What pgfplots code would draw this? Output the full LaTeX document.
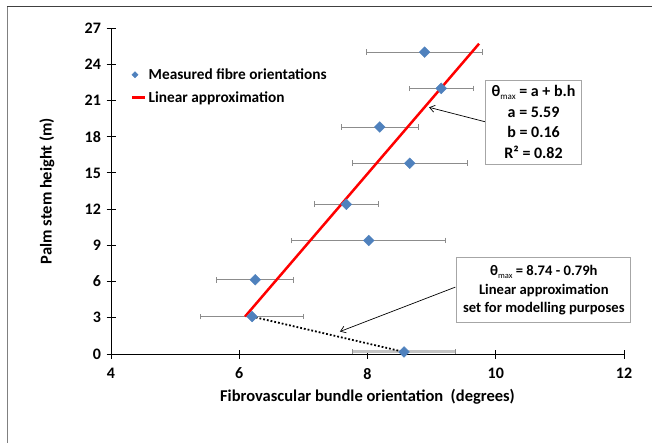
\documentclass[border=0pt]{standalone}
\usepackage{fontspec}
\setmainfont{Carlito}
\usepackage{pgfplots}
\pgfplotsset{compat=1.18}
\usetikzlibrary{arrows.meta}
\definecolor{xlblue}{HTML}{4F81BD}
\definecolor{errgray}{HTML}{8C8C8C}
\definecolor{bandgray}{HTML}{C4C4C4}
\definecolor{boxgray}{HTML}{A6A6A6}
\pgfplotsset{
  markleg/.style={legend image code/.code={\draw[##1, mark size=2.2pt] plot coordinates {(2.5pt,0pt)};}},
  lineleg/.style={legend image code/.code={\draw[##1] (0pt,0pt) -- (13pt,0pt);}},
}

\begin{document}
\begin{tikzpicture}[x=1pt,y=1pt]
\useasboundingbox (0,0) rectangle (652,-443);
\draw[line width=1.4pt, gray] (7.5,-443) -- (7.5,-6.5);
\draw[line width=1.4pt, black!75] (6.8,-6.5) -- (652,-6.5);
\begin{axis}[
  at={(111pt,-354pt)}, anchor=south west,
  scale only axis, width=513pt, height=326pt,
  xmin=4, xmax=12, ymin=0, ymax=27,
  xtick={4,6,...,12}, ytick={0,3,...,27},
  axis lines=left,
  every outer x axis line/.append style={-, line width=1pt},
  every outer y axis line/.append style={-, line width=1pt},
  tick align=center, major tick length=9pt,
  tick style={black, line width=0.8pt},
  /pgf/number format/assume math mode=true,
  tick label style={font=\fontsize{16}{18}\selectfont\bfseries},
  xticklabel style={yshift=-6pt},
  yticklabel style={xshift=-2pt},
  xlabel={Fibrovascular bundle orientation\ \ (degrees)},
  ylabel={Palm stem height (m)},
  label style={font=\fontsize{16.5}{18}\selectfont\bfseries},
  xlabel style={at={(axis description cs:0.5,-0.131)}, anchor=center},
  ylabel style={at={(axis description cs:-0.1248,0.5)}, anchor=center},
  clip=false,
  legend style={draw=none, fill=none, at={(axis description cs:0.039,0.882)},
    anchor=north west, font=\fontsize{15.3}{17}\selectfont\bfseries,
    row sep=6.5pt, inner sep=0pt},
  legend cell align=left,
]
% lowest point: its bar lies on the axis line
\addplot[forget plot, only marks, mark=square*, mark size=3.8pt,
  mark options={rotate=45, fill=xlblue, draw=xlblue},
  error bars/.cd, x dir=both, x explicit,
  error bar style={bandgray, line width=3pt},
  error mark options={rotate=90, errgray, line width=0.8pt, mark size=2.5pt}]
  coordinates {(8.57,0.17) +- (0.8,0)};
% dotted segment set for modelling purposes
\addplot[black, dotted, line width=1.8pt, forget plot]
  coordinates {(6.20,3.1) (8.57,0.17)};
\addplot[only marks, mark=square*, mark size=3.8pt,
  mark options={rotate=45, fill=xlblue, draw=xlblue}, markleg,
  error bars/.cd, x dir=both, x explicit,
  error bar style={errgray, line width=0.8pt},
  error mark options={rotate=90, errgray, line width=0.8pt, mark size=2.8pt}]
  coordinates {
  (8.89,25.0) +- (0.9,0)
  (9.15,22.0) +- (0.5,0)
  (8.19,18.8) +- (0.6,0)
  (8.66,15.8) +- (0.9,0)
  (7.67,12.4) +- (0.5,0)
  (8.02,9.4) +- (1.2,0)
  (6.25,6.15) +- (0.6,0)
  (6.20,3.1) +- (0.8,0)
  };
\addlegendentry{Measured fibre orientations}
\addplot[red, line width=2.5pt, lineleg]
  coordinates {(6.09,3.1) (9.74,25.7)};
\addlegendentry{Linear approximation}

\draw[-{Straight Barb[length=5pt,width=7pt]}, line width=0.7pt]
  (axis cs:9.83,19.24) -- (axis cs:8.96,20.43);
\draw[-{Straight Barb[length=5pt,width=7pt]}, line width=0.7pt]
  (axis cs:9.37,5.54) -- (axis cs:7.57,1.86);
\node[draw=boxgray, fill=white, line width=0.8pt, minimum width=96pt,
  minimum height=84pt, inner sep=2pt, align=center,
  font=\fontsize{16}{20.7}\selectfont\bfseries]
  at (axis cs:10.59,19.22)
  {θ\raisebox{-3pt}{\fontsize{9}{9}\selectfont\mdseries max} = a + b.h\\
   a = 5.59\\ b = 0.16\\ R² = 0.82};
\node[draw=boxgray, fill=white, line width=0.8pt, minimum width=174pt,
  minimum height=65pt, inner sep=2pt, align=center,
  font=\fontsize{14.6}{18.3}\selectfont\bfseries]
  at (axis cs:10.75,5.29)
  {θ\raisebox{-3pt}{\fontsize{8.5}{8.5}\selectfont\mdseries max} = 8.74 - 0.79h\\
   Linear approximation\\ set for modelling purposes};
\end{axis}
\end{tikzpicture}
\end{document}
